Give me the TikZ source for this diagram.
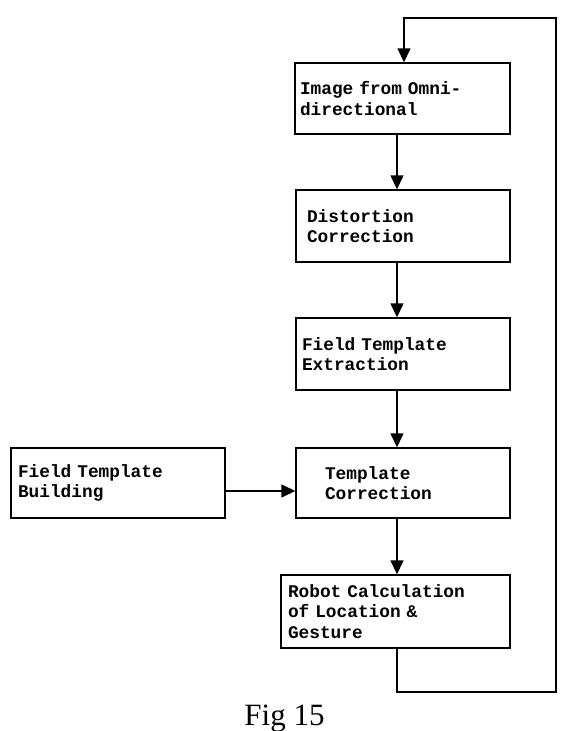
\documentclass[tikz,border=0pt]{standalone}
\usepackage{fontspec}
\usetikzlibrary{arrows.meta}

\newfontfamily\stagefont[WordSpace={1,0,0}]{Liberation Mono}
\newfontfamily\capfont{Liberation Serif}

\begin{document}
\begin{tikzpicture}[x=1pt, y=-1pt,
    stage/.style={draw, rectangle, line width=1.4pt, inner ysep=0pt,
                  align=left, font=\stagefont\bfseries\fontsize{17.8}{20.6}\selectfont},
    flow/.style={line width=1.4pt, -{Triangle[length=14pt, width=13pt]}}]

  % Fix the page to the size of the figure
  \useasboundingbox (0,0) rectangle (567,731);

  % Column used by the vertical arrows
  \coordinate (spine) at (397,0);

  % Place the processing stages
  \node [stage, minimum width=215pt, minimum height=71pt, inner xsep=5pt, text width=205pt]
    (image) at (402.5,98.5) {Image from Omni-\\directional};
  \node [stage, minimum width=214pt, minimum height=72pt, inner xsep=11pt, text width=192pt]
    (distortion) at (403,226) {Distortion\\Correction};
  \node [stage, minimum width=214pt, minimum height=72pt, inner xsep=6pt, text width=202pt]
    (extraction) at (403,354) {Field Template\\Extraction};
  \node [stage, minimum width=214pt, minimum height=70pt, inner xsep=29pt, text width=156pt]
    (correction) at (403,483) {Template\\Correction};
  \node [stage, minimum width=214pt, minimum height=70pt, inner xsep=7pt, text width=200pt]
    (building) at (118,483) {Field Template\\Building};
  \node [stage, minimum width=229pt, minimum height=73pt, inner xsep=7pt, text width=215pt]
    (robot) at (395.5,611.5) {Robot Calculation\\of Location \&\\Gesture};

  % Connect the stages
  \draw [flow] (image.south -| spine) -- (distortion.north -| spine);
  \draw [flow] (distortion.south -| spine) -- (extraction.north -| spine);
  \draw [flow] (extraction.south -| spine) -- (correction.north -| spine);
  \draw [flow] (correction.south -| spine) -- (robot.north -| spine);
  \draw [flow] ([yshift=-8pt]building.east) -- ([yshift=-8pt]correction.west);

  % Feedback loop back to the camera image
  \coordinate (loop-low) at (556,692);
  \coordinate (loop-high) at (556,18);
  \draw [flow] (robot.south -| spine) |- (loop-low) -- (loop-high) -| ([xshift=1.5pt]image.north);

  % Caption
  \node [font=\capfont\fontsize{31}{36}\selectfont, anchor=base, inner sep=0pt]
    (caption) at (284.5,725) {Fig 15};

\end{tikzpicture}
\end{document}
